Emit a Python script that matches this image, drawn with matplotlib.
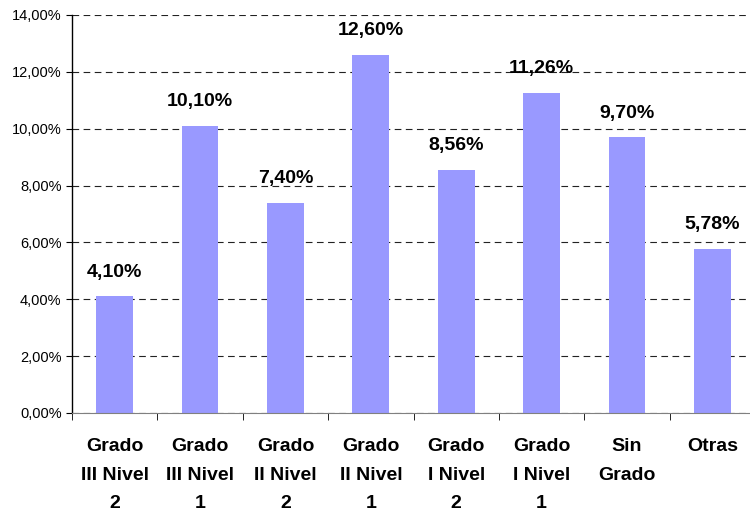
import matplotlib
matplotlib.use("Agg")
import matplotlib.pyplot as plt
from matplotlib.ticker import FuncFormatter, MultipleLocator
import numpy as np

categories = ["Grado\nIII Nivel\n2", "Grado\nIII Nivel\n1", "Grado\nII Nivel\n2", "Grado\nII Nivel\n1",
              "Grado\nI Nivel\n2", "Grado\nI Nivel\n1", "Sin\nGrado", "Otras"]
values = [4.10, 10.10, 7.40, 12.60, 8.56, 11.26, 9.70, 5.78]

plt.rcParams["font.family"] = ["Liberation Sans", "DejaVu Sans"]

fig = plt.figure(figsize=(7.5, 5.18), dpi=100)
ax = fig.add_axes([72 / 750, 105 / 518, 683 / 750, 398 / 518])

x = np.arange(len(categories))
ax.bar(x, values, width=0.43, color="#9999FF", zorder=2)

for xi, v in zip(x, values):
    ax.text(xi, v + 0.55, f"{v:.2f}%".replace(".", ","), ha="center", va="bottom",
            fontsize=14, fontweight="bold")

ax.set_xlim(-0.5, len(categories) - 0.5)
ax.set_ylim(0, 14)
ax.yaxis.set_major_locator(MultipleLocator(2))
ax.yaxis.set_major_formatter(FuncFormatter(lambda y, _: f"{y:.2f}%".replace(".", ",")))
ax.yaxis.grid(True, linestyle=(0, (6, 4)), color="#222222", linewidth=0.8, zorder=0)
ax.tick_params(axis="y", labelsize=10.5, length=4, direction="out")

ax.set_xticks(x)
ax.set_xticklabels(categories, fontsize=14, fontweight="bold", linespacing=1.9, va="top")
ax.set_xticks(np.arange(len(categories) + 1) - 0.5, minor=True)
ax.tick_params(axis="x", which="major", length=0, pad=18)
ax.tick_params(axis="x", which="minor", length=5, direction="out")

for s in ["top", "right"]:
    ax.spines[s].set_visible(False)
ax.spines["left"].set_linewidth(1.0)
ax.spines["bottom"].set_color("#808080")

fig.savefig("out.png", dpi=100)
